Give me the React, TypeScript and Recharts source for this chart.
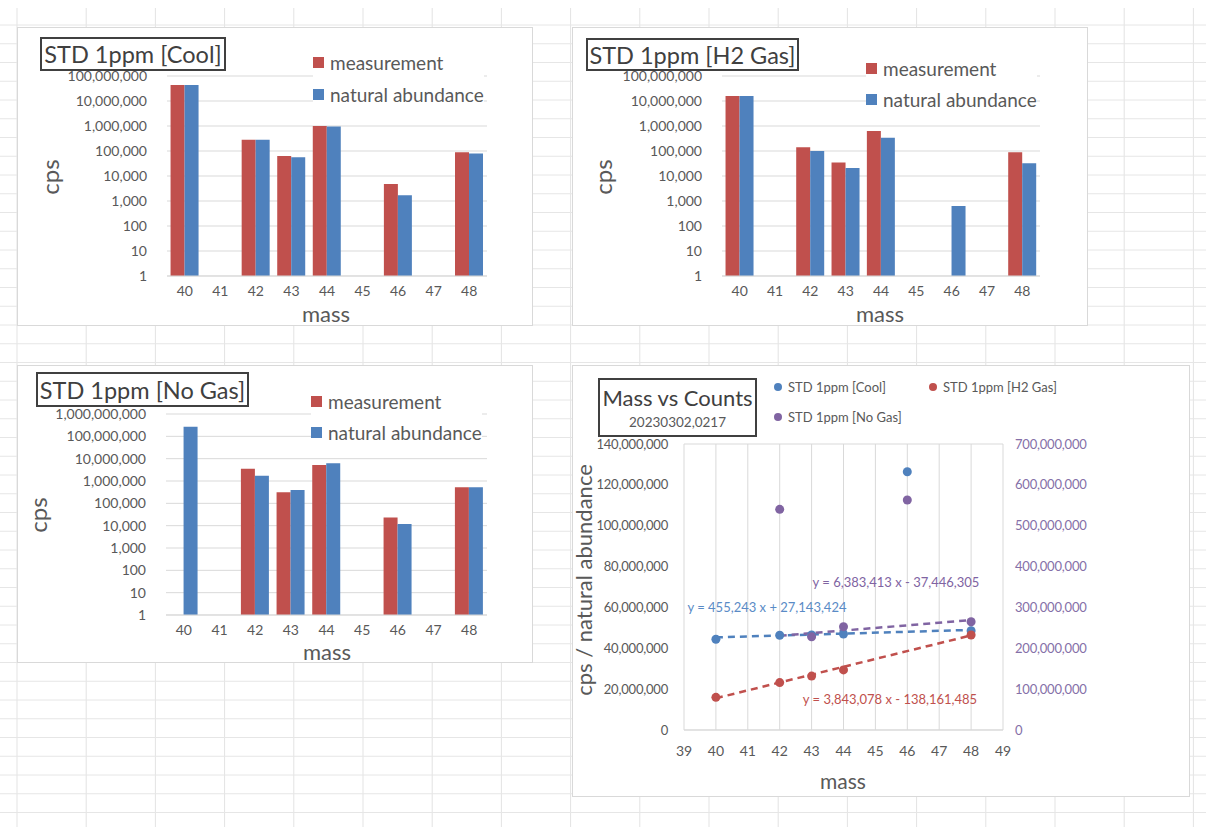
import React from 'react';
import { BarChart, Bar, XAxis, YAxis, CartesianGrid, ComposedChart, Scatter, Line } from 'recharts';

// bar panels: masses and counts (cps)
const masses = ['40', '41', '42', '43', '44', '45', '46', '47', '48'];
const coolMeasurement = [4.4e7, null, 2.8e5, 6.3e4, 1.0e6, null, 4.8e3, null, 8.9e4];
const coolNatural = [4.4e7, null, 2.8e5, 5.6e4, 9.5e5, null, 1.7e3, null, 8.0e4];
const h2Measurement = [1.6e7, null, 1.4e5, 3.5e4, 6.3e5, null, null, null, 8.9e4];
const h2Natural = [1.6e7, null, 1.0e5, 2.1e4, 3.4e5, null, 6.3e2, null, 3.2e4];
const noGasMeasurement = [null, null, 3.5e6, 3.1e5, 5.2e6, null, 2.3e4, null, 5.2e5];
const noGasNatural = [2.7e8, null, 1.7e6, 4.0e5, 6.2e6, null, 1.2e4, null, 5.2e5];

const logTicks8 = [1, 10, 100, 1e3, 1e4, 1e5, 1e6, 1e7, 1e8];
const logTicks9 = [1, 10, 100, 1e3, 1e4, 1e5, 1e6, 1e7, 1e8, 1e9];

// scatter panel: cps / natural abundance
const coolMass = [40, 42, 43, 44, 46, 48];
const coolRatio = [44.4e6, 46.4e6, 46.5e6, 47.0e6, 126.4e6, 48.6e6];
const h2Mass = [40, 42, 43, 44, 48];
const h2Ratio = [16.0e6, 23.2e6, 26.4e6, 29.4e6, 46.5e6];
const noGasMass = [42, 43, 44, 46, 48];
const noGasRatio = [540e6, 228e6, 253e6, 563e6, 265e6];

// trendline end points
const coolTrendMass = [40, 48];
const coolTrendValue = [45.35e6, 48.99e6];
const h2TrendMass = [40, 48];
const h2TrendValue = [15.56e6, 46.31e6];
const noGasTrendMass = [42, 48];
const noGasTrendValue = [230.7e6, 269.0e6];

const massTicks = [39, 40, 41, 42, 43, 44, 45, 46, 47, 48, 49];
const leftTicks = [0, 20e6, 40e6, 60e6, 80e6, 100e6, 120e6, 140e6];
const rightTicks = [0, 100e6, 200e6, 300e6, 400e6, 500e6, 600e6, 700e6];

const FONT = 'Lato, "Open Sans", sans-serif';
const TEXT = '#595959';
const RED = '#C0504D';
const BLUE = '#4F81BD';
const PURPLE = '#8064A2';
const GRID = '#D9D9D9';

const fmt = (v: number) => v.toLocaleString('en-US');

const Txt = ({ x, y, size, color = TEXT, rotate = 0, children }: any) => (
  <div
    style={{
      position: 'absolute', left: x, top: y, fontSize: size, color, whiteSpace: 'nowrap',
      transform: `translate(-50%, -50%) rotate(${rotate}deg)`, lineHeight: 0.75,
    }}
  >
    {children}
  </div>
);

const TitleBox = ({ x, y, w, h, children }: any) => (
  <div
    style={{
      position: 'absolute', left: x, top: y, width: w, height: h, boxSizing: 'border-box',
      border: '2px solid #404040', background: '#fff', color: '#404040', whiteSpace: 'nowrap',
      display: 'flex', flexDirection: 'column', alignItems: 'center', justifyContent: 'center',
    }}
  >
    {children}
  </div>
);

const BarLegend = ({ x, y, gap }: any) => (
  <div style={{ position: 'absolute', left: x, top: y, background: '#fff', fontSize: 19, color: TEXT, lineHeight: 1 }}>
    {[['measurement', RED], ['natural abundance', BLUE]].map(([name, c], i) => (
      <div key={name} style={{ display: 'flex', alignItems: 'center', height: 20, marginTop: i ? gap - 20 : 0, whiteSpace: 'nowrap' }}>
        <span style={{ width: 11, height: 11, background: c, marginRight: 6, display: 'inline-block' }} />
        {name}
      </div>
    ))}
  </div>
);

const BarPanel = ({ box, margin, measurement, natural, ticks }: any) => {
  const data = masses.map((m, i) => ({ mass: m, measurement: measurement[i], natural: natural[i] }));
  return (
    <div style={{ position: 'absolute', left: box.x, top: box.y, width: box.w, height: box.h, background: '#fff', border: `1px solid ${GRID}`, boxSizing: 'border-box' }}>
      <BarChart width={box.w - 2} height={box.h - 2} data={data} margin={margin} barCategoryGap="10%" barGap={0}>
        <CartesianGrid vertical={false} stroke={GRID} />
        <XAxis dataKey="mass" tickLine={false} axisLine={{ stroke: GRID }} tickSize={6} tickMargin={4} height={30}
          tick={{ fill: TEXT, fontSize: 14, fontFamily: FONT }} interval={0} />
        <YAxis scale="log" domain={[1, ticks[ticks.length - 1]]} ticks={ticks} allowDataOverflow width={box.yw}
          tickFormatter={fmt} tickLine={false} axisLine={false} tickSize={6} tickMargin={14}
          tick={{ fill: TEXT, fontSize: 14, fontFamily: FONT }} interval={0} />
        <Bar dataKey="measurement" fill={RED} isAnimationActive={false} />
        <Bar dataKey="natural" fill={BLUE} isAnimationActive={false} />
      </BarChart>
    </div>
  );
};

const Dot = (color: string) => (p: any) => <circle cx={p.cx} cy={p.cy} r={4.5} fill={color} />;

const pairs = (xs: number[], ys: number[]) => xs.map((m, i) => ({ mass: m, v: ys[i] }));

const Background = () => {
  const v: number[] = [];
  for (let x = 17; x < 1206; x += 69.2) v.push(x);
  const h: number[] = [];
  for (let y = 25; y < 827; y += 18.75) h.push(y);
  return (
    <svg width={1206} height={827} style={{ position: 'absolute', left: 0, top: 0 }}>
      {v.map((x) => <line key={'v' + x} x1={x} x2={x} y1={8} y2={827} stroke="#E3E3E3" />)}
      {h.map((y) => <line key={'h' + y} x1={0} x2={1206} y1={y} y2={y} stroke="#E6E6E6" />)}
    </svg>
  );
};

const smallTick = { fontSize: 13, fontFamily: FONT, letterSpacing: -0.2 };

export default function App() {
  return (
    <div style={{ position: 'absolute', left: 0, top: 0, width: 1206, height: 827, background: '#fff', fontFamily: FONT, overflow: 'hidden' }}>
      <Background />

      {/* STD 1ppm [Cool] */}
      <BarPanel box={{ x: 17, y: 27, w: 516, h: 299, yw: 149 }} margin={{ top: 48, right: 45, bottom: 19, left: 0 }}
        measurement={coolMeasurement} natural={coolNatural} ticks={logTicks8} />
      <TitleBox x={40} y={37} w={186} h={34}><span style={{ fontSize: 23.5 }}>STD 1ppm [Cool]</span></TitleBox>
      <BarLegend x={313} y={52} gap={32} />
      <Txt x={50} y={177} size={24} rotate={-90}>cps</Txt>
      <Txt x={326} y={313.5} size={22}>mass</Txt>

      {/* STD 1ppm [H2 Gas] */}
      <BarPanel box={{ x: 572, y: 27, w: 516, h: 299, yw: 149 }} margin={{ top: 48, right: 47, bottom: 19, left: 0 }}
        measurement={h2Measurement} natural={h2Natural} ticks={logTicks8} />
      <TitleBox x={586} y={38} w={213} h={33}><span style={{ fontSize: 23.5 }}>STD 1ppm [H2 Gas]</span></TitleBox>
      <BarLegend x={866} y={58} gap={31} />
      <Txt x={603} y={177} size={24} rotate={-90}>cps</Txt>
      <Txt x={880} y={313.5} size={22}>mass</Txt>

      {/* STD 1ppm [No Gas] */}
      <BarPanel box={{ x: 17, y: 365, w: 516, h: 298, yw: 148 }} margin={{ top: 48, right: 45, bottom: 17, left: 0 }}
        measurement={noGasMeasurement} natural={noGasNatural} ticks={logTicks9} />
      <TitleBox x={36} y={372} w={213} h={35}><span style={{ fontSize: 23.5 }}>STD 1ppm [No Gas]</span></TitleBox>
      <BarLegend x={311} y={391} gap={31} />
      <Txt x={38} y={515} size={24} rotate={-90}>cps</Txt>
      <Txt x={327} y={652} size={22}>mass</Txt>

      {/* Mass vs Counts */}
      <div style={{ position: 'absolute', left: 572, top: 365, width: 618, height: 432, background: '#fff', border: `1px solid ${GRID}`, boxSizing: 'border-box' }}>
        <ComposedChart width={616} height={430} margin={{ top: 78, right: 76, bottom: 36, left: 0 }}>
          <CartesianGrid stroke={GRID} />
          <XAxis dataKey="mass" type="number" domain={[39, 49]} ticks={massTicks} interval={0}
            tickLine={false} axisLine={{ stroke: GRID }} tickSize={6} tickMargin={10} height={30}
            tick={{ fill: TEXT, fontSize: 14, fontFamily: FONT }} />
          <YAxis yAxisId="left" domain={[0, 140e6]} ticks={leftTicks} interval={0} width={111}
            tickFormatter={fmt} tickLine={false} axisLine={false} tickSize={6} tickMargin={10}
            tick={{ fill: TEXT, ...smallTick }} />
          <YAxis yAxisId="right" orientation="right" domain={[0, 700e6]} ticks={rightTicks} interval={0} width={110}
            tickFormatter={fmt} tickLine={false} axisLine={false} tickSize={6} tickMargin={6}
            tick={{ fill: '#8570A8', ...smallTick }} />
          <Line yAxisId="left" data={pairs(coolTrendMass, coolTrendValue)} dataKey="v" stroke={BLUE} strokeWidth={2.5}
            strokeDasharray="7 5" dot={false} isAnimationActive={false} />
          <Line yAxisId="left" data={pairs(h2TrendMass, h2TrendValue)} dataKey="v" stroke={RED} strokeWidth={2.5}
            strokeDasharray="7 5" dot={false} isAnimationActive={false} />
          <Line yAxisId="right" data={pairs(noGasTrendMass, noGasTrendValue)} dataKey="v" stroke={PURPLE} strokeWidth={2.5}
            strokeDasharray="7 5" dot={false} isAnimationActive={false} />
          <Scatter yAxisId="left" data={pairs(coolMass, coolRatio)} dataKey="v" shape={Dot(BLUE)} isAnimationActive={false} />
          <Scatter yAxisId="left" data={pairs(h2Mass, h2Ratio)} dataKey="v" shape={Dot(RED)} isAnimationActive={false} />
          <Scatter yAxisId="right" data={pairs(noGasMass, noGasRatio)} dataKey="v" shape={Dot(PURPLE)} isAnimationActive={false} />
        </ComposedChart>
      </div>
      <TitleBox x={598} y={378} w={159} h={59}>
        <span style={{ fontSize: 22, lineHeight: 1, marginTop: 2 }}>Mass vs Counts</span>
        <span style={{ fontSize: 13.5, color: TEXT, marginTop: 5 }}>20230302,0217</span>
      </TitleBox>
      {[
        ['STD 1ppm [Cool]', BLUE, 778, 387],
        ['STD 1ppm [H2 Gas]', RED, 933, 387],
        ['STD 1ppm [No Gas]', PURPLE, 778, 417],
      ].map(([name, c, x, y]: any) => (
        <div key={name} style={{ position: 'absolute', left: x - 4, top: y - 9, height: 18, display: 'flex', alignItems: 'center', fontSize: 13, color: TEXT, whiteSpace: 'nowrap' }}>
          <span style={{ width: 8, height: 8, borderRadius: 4, background: c, marginRight: 6, display: 'inline-block' }} />
          {name}
        </div>
      ))}
      <Txt x={767} y={608} size={13} color="#5A8BC6">y = 455,243 x + 27,143,424</Txt>
      <Txt x={896} y={583} size={13} color={PURPLE}>y = 6,383,413 x - 37,446,305</Txt>
      <Txt x={890} y={700} size={13} color={RED}>y = 3,843,078 x - 138,161,485</Txt>
      <Txt x={584} y={580} size={22} rotate={-90}>cps / natural abundance</Txt>
      <Txt x={843} y={781} size={21}>mass</Txt>
    </div>
  );
}
